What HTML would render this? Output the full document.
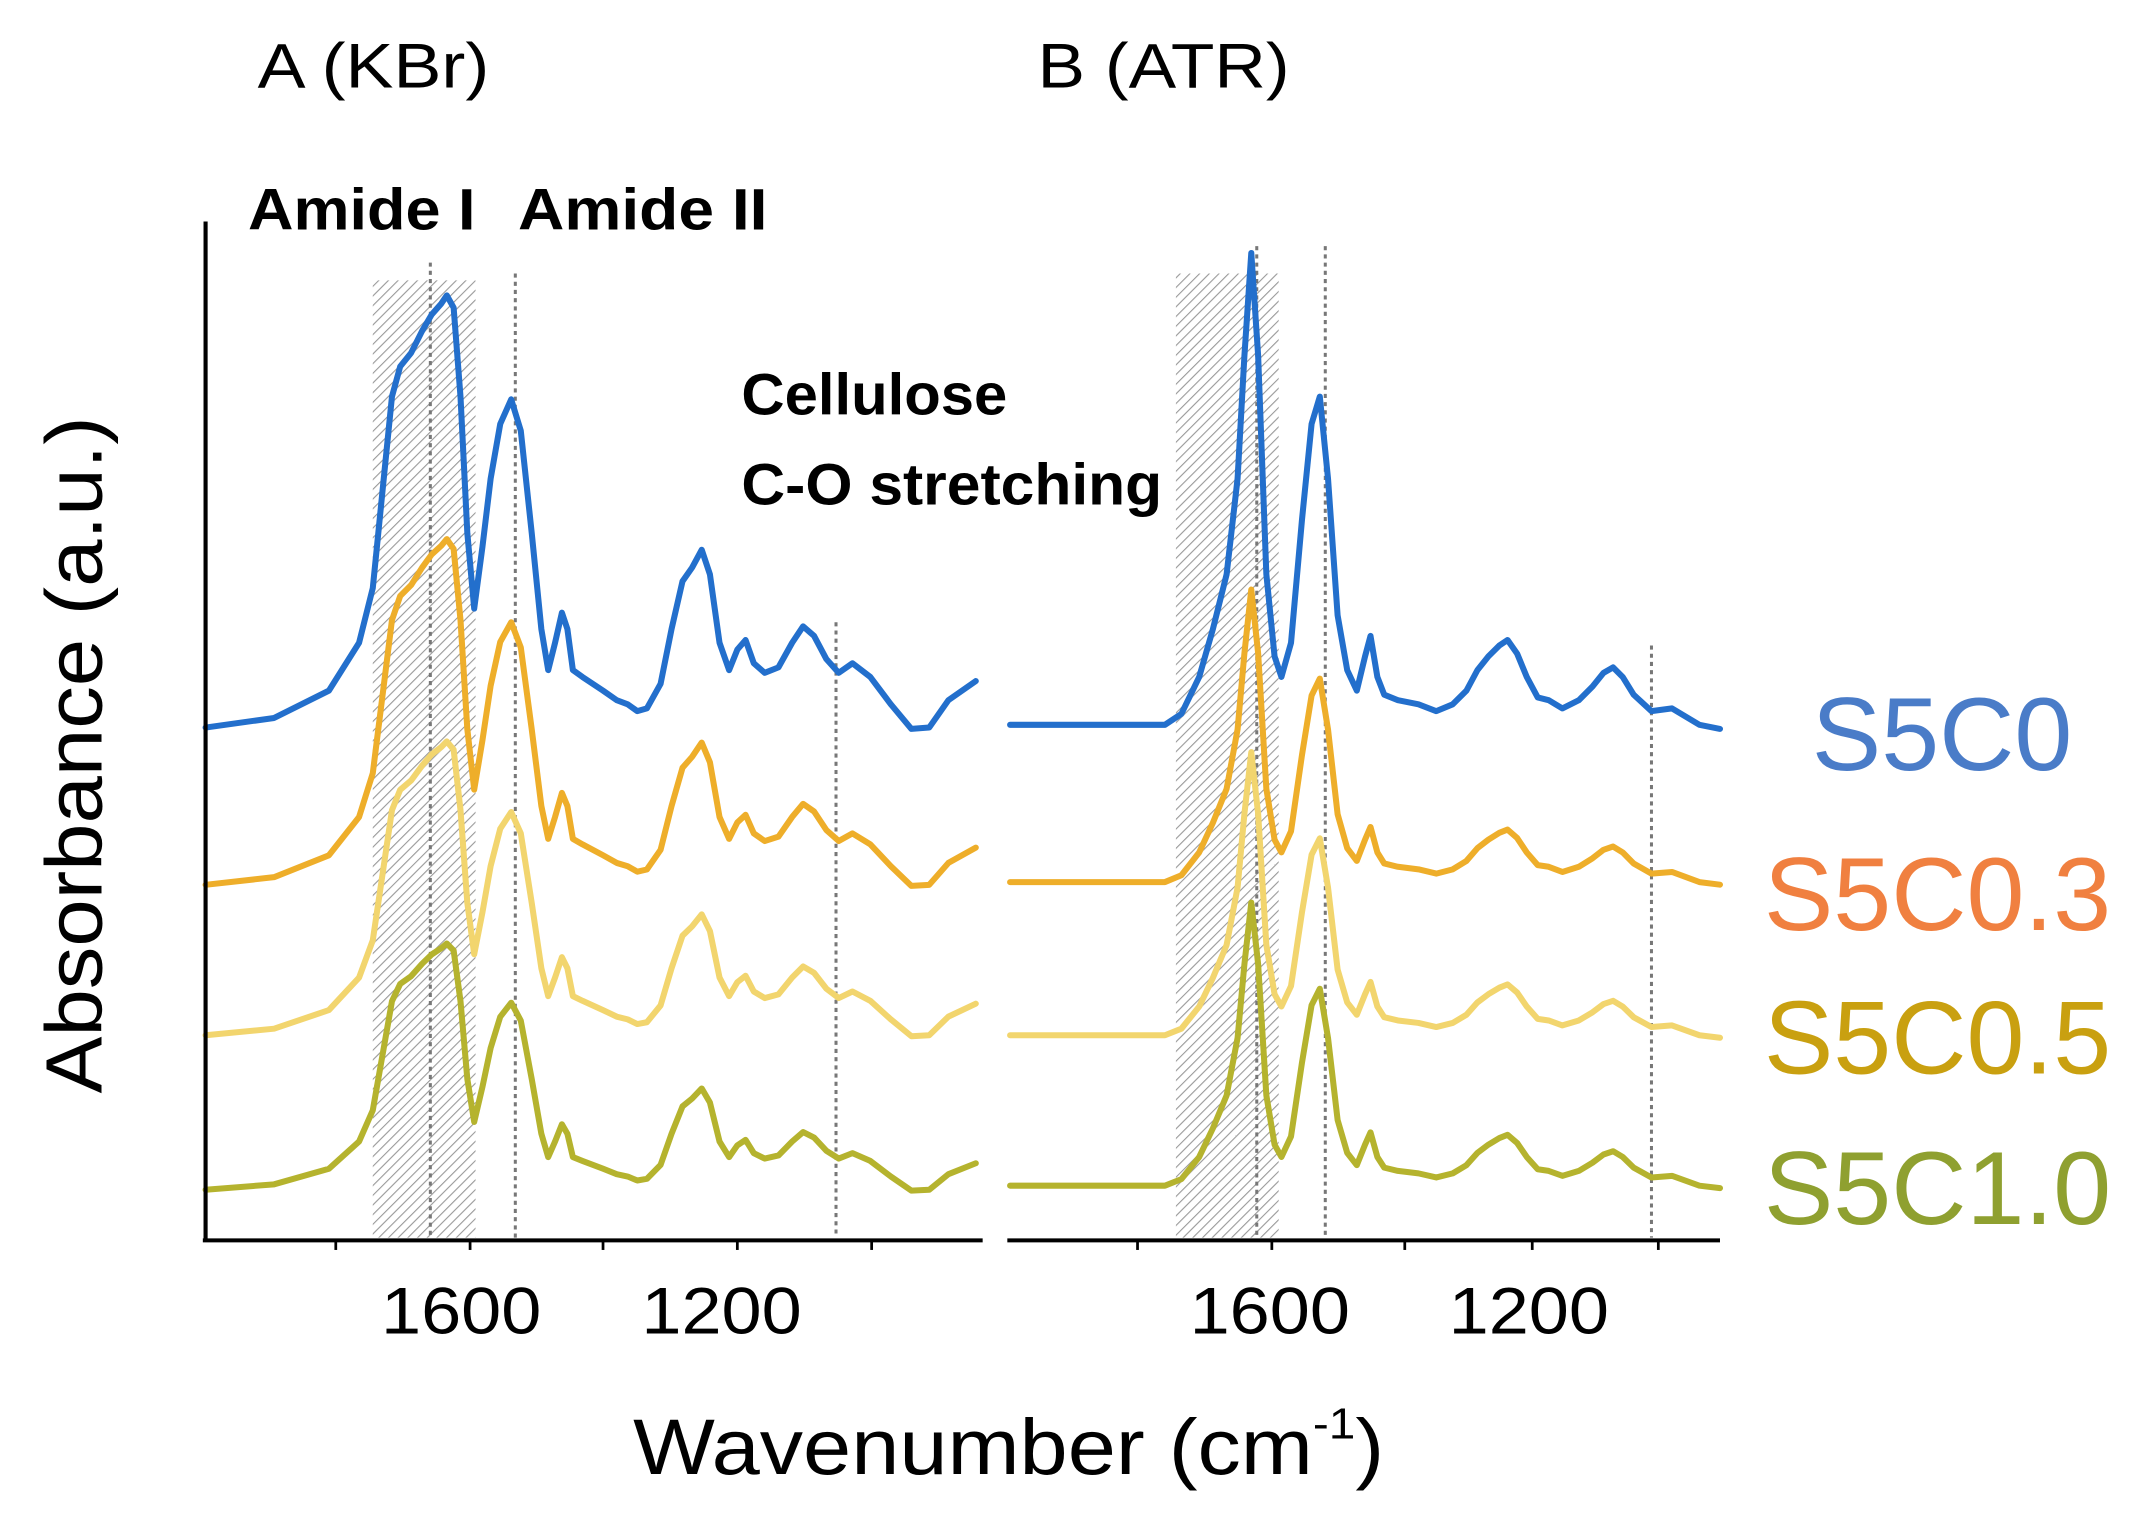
<!DOCTYPE html>
<html><head><meta charset="utf-8"><style>
html,body{margin:0;padding:0;background:#fff;}
svg{display:block;}
text{font-family:"Liberation Sans",sans-serif;}
</style></head><body>
<svg id="s" width="2138" height="1518" viewBox="0 0 1560 1110" preserveAspectRatio="none" xmlns="http://www.w3.org/2000/svg">
<defs>
<pattern id="h" width="5" height="5" patternUnits="userSpaceOnUse" patternTransform="rotate(45)">
<rect width="5" height="5" fill="#fff"/><line x1="0" y1="0" x2="0" y2="5" stroke="#999" stroke-width="1.6"/>
</pattern>
</defs>
<rect x="272" y="205" width="75" height="700" fill="url(#h)"/>
<rect x="858" y="200" width="75" height="705" fill="url(#h)"/>
<g stroke="#777" stroke-width="2.2" stroke-dasharray="3,3">
<line x1="314" y1="192" x2="314" y2="905"/>
<line x1="376" y1="200" x2="376" y2="905"/>
<line x1="610" y1="455" x2="610" y2="905"/>
<line x1="917" y1="180" x2="917" y2="905"/>
<line x1="967" y1="180" x2="967" y2="905"/>
<line x1="1205" y1="472" x2="1205" y2="905"/>
</g>
<g id="curves" fill="none" stroke-width="4.4" stroke-linejoin="round" stroke-linecap="round"></g>
<g stroke="#000" stroke-width="3">
<line x1="150" y1="162" x2="150" y2="908"/>
<line x1="148" y1="907" x2="717" y2="907"/>
<line x1="735" y1="907" x2="1255" y2="907"/>
</g>
<g stroke="#000" stroke-width="2">
<line x1="245" y1="907" x2="245" y2="914"/><line x1="343" y1="907" x2="343" y2="914"/>
<line x1="440" y1="907" x2="440" y2="914"/><line x1="538" y1="907" x2="538" y2="914"/>
<line x1="636" y1="907" x2="636" y2="914"/>
<line x1="830" y1="907" x2="830" y2="914"/><line x1="928" y1="907" x2="928" y2="914"/>
<line x1="1025" y1="907" x2="1025" y2="914"/><line x1="1118" y1="907" x2="1118" y2="914"/>
<line x1="1210" y1="907" x2="1210" y2="914"/>
</g>
<g font-size="48" fill="#000">
<text x="278" y="975" textLength="117" lengthAdjust="spacingAndGlyphs">1600</text>
<text x="468" y="975" textLength="117" lengthAdjust="spacingAndGlyphs">1200</text>
<text x="868" y="975" textLength="117" lengthAdjust="spacingAndGlyphs">1600</text>
<text x="1057" y="975" textLength="117" lengthAdjust="spacingAndGlyphs">1200</text>
</g>
<text x="188" y="64" font-size="46" textLength="169" lengthAdjust="spacingAndGlyphs">A (KBr)</text>
<text x="757" y="64" font-size="46" textLength="184" lengthAdjust="spacingAndGlyphs">B (ATR)</text>
<g font-weight="bold" font-size="43" fill="#000">
<text x="181" y="168" textLength="166" lengthAdjust="spacingAndGlyphs">Amide I</text>
<text x="378" y="168" textLength="182" lengthAdjust="spacingAndGlyphs">Amide II</text>
<text x="541" y="303" textLength="194" lengthAdjust="spacingAndGlyphs">Cellulose</text>
<text x="541" y="369" textLength="307" lengthAdjust="spacingAndGlyphs">C-O stretching</text>
</g>
<text transform="translate(74,552) rotate(-90)" font-size="58" text-anchor="middle" textLength="495" lengthAdjust="spacingAndGlyphs">Absorbance (a.u.)</text>
<text x="462" y="1078" font-size="58" textLength="548" lengthAdjust="spacingAndGlyphs">Wavenumber (cm<tspan font-size="32" dy="-26">-1</tspan><tspan dy="26">)</tspan></text>
<g font-size="76">
<text x="1322" y="563" fill="#4A7CC8">S5C0</text>
<text x="1287" y="680" fill="#F08040">S5C0.3</text>
<text x="1287" y="785" fill="#C9A010">S5C0.5</text>
<text x="1287" y="895" fill="#8FA030">S5C1.0</text>
</g>
</svg>
<script>
var A=[[150,532],[200,525],[240,505],[262,470],[272,430],[280,350],[286,290],[292,268],[300,258],[308,242],[315,230],[322,222],[326,216],[331,225],[336,290],[341,390],[346,445],[352,400],[358,350],[365,310],[373,292],[380,315],[388,390],[395,460],[400,490],[405,470],[410,448],[414,460],[418,490],[425,495],[440,505],[450,512],[458,515],[465,520],[472,518],[482,500],[490,460],[498,425],[505,415],[512,402],[518,420],[525,470],[532,490],[538,475],[544,468],[550,485],[558,492],[568,488],[578,470],[586,458],[594,465],[603,482],[612,492],[622,485],[635,495],[650,515],[665,533],[678,532],[692,512],[712,498]];
var B=[[737,530],[800,530],[850,530],[862,522],[875,495],[885,460],[895,420],[903,350],[908,260],[913,185],[918,260],[924,420],[930,480],[935,495],[942,470],[950,380],[957,310],[963,290],[969,350],[976,450],[983,490],[990,505],[996,480],[1000,465],[1005,495],[1010,508],[1020,512],[1035,515],[1048,520],[1060,515],[1070,505],[1078,490],[1086,480],[1094,472],[1100,468],[1107,478],[1114,495],[1122,510],[1130,512],[1140,518],[1152,512],[1162,502],[1170,492],[1177,488],[1184,495],[1192,508],[1205,520],[1220,518],[1240,530],[1255,533]];
var ser=[["#236FCC",0,1,0,1],["#EEAE2A",115,0.8,115,0.62],["#F2D56E",225,0.68,227,0.6],["#B5B32E",338,0.57,337,0.6]];
function path(pts,base,off,sc){var d="";pts.forEach(function(p,i){var y=base+off-(base-p[1])*sc;d+=(i?"L":"M")+p[0]+","+y.toFixed(1);});return d;}
var g=document.getElementById("curves"),ns="http://www.w3.org/2000/svg";
for(var i=ser.length-1;i>=0;i--){var s=ser[i];
[[A,532,s[1],s[2]],[B,530,s[3],s[4]]].forEach(function(c){var p=document.createElementNS(ns,"path");p.setAttribute("d",path(c[0],c[1],c[2],c[3]));p.setAttribute("stroke",s[0]);g.appendChild(p);});}
</script>
</body></html>
